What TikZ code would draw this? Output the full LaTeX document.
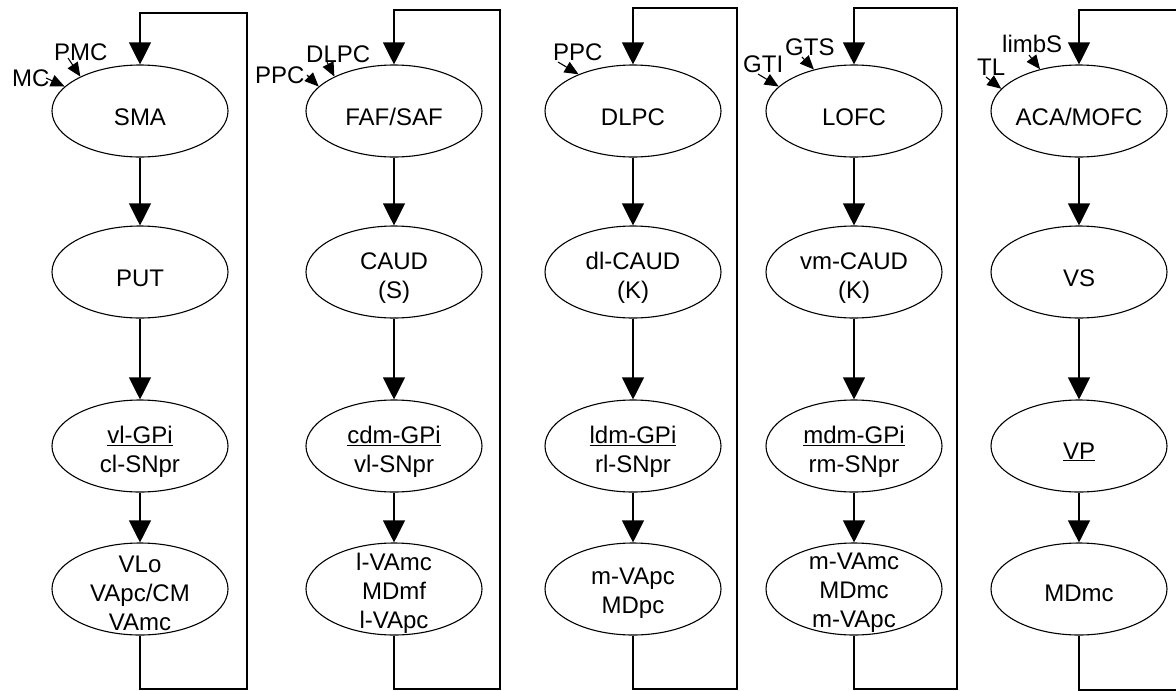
\documentclass[tikz,border=0pt]{standalone}
\usepackage{fontspec}
\setmainfont{Liberation Sans}
\usetikzlibrary{shapes.geometric,arrows.meta}
\begin{document}
\begin{tikzpicture}[x=1pt,y=-1pt,
  every node/.style={font=\fontsize{24}{29}\selectfont},
  region/.style={ellipse,draw,line width=1.1pt,minimum width=176pt,minimum height=92pt,inner sep=0pt},
  inside/.style={align=center,inner sep=0pt,yshift=-6pt},
  insidelow/.style={align=center,inner sep=0pt,yshift=-4pt},
  flow/.style={line width=1.1pt,-{Triangle[length=22pt,width=22pt]}},
  feed/.style={line width=1.1pt,-{Triangle[length=14pt,width=12pt]}},
  src/.style={anchor=base west,inner sep=0pt},
]
\useasboundingbox (0,0) rectangle (1176,691);
\clip (0,0) rectangle (1176,691);

% ---- loop 1: motor ----
\node[region,label={[inside]center:{SMA}}] (c1a) at (140,111) {};
\node[region,label={[inside]center:{PUT}}] (c1b) at (140,272) {};
\node[region,label={[inside]center:{\underline{vl-GPi}\\cl-SNpr}}] (c1c) at (140,446) {};
\node[region,label={[insidelow]center:{VLo\\VApc/CM\\VAmc}}] (c1d) at (140,589) {};

% ---- loop 2: oculomotor ----
\node[region,label={[inside]center:{FAF/SAF}}] (c2a) at (394,111) {};
\node[region,label={[inside]center:{CAUD\\(S)}}] (c2b) at (394,272) {};
\node[region,label={[inside]center:{\underline{cdm-GPi}\\vl-SNpr}}] (c2c) at (394,446) {};
\node[region,label={[insidelow]center:{l-VAmc\\MDmf\\l-VApc}}] (c2d) at (394,589) {};

% ---- loop 3: dorsolateral prefrontal ----
\node[region,label={[inside]center:{DLPC}}] (c3a) at (633,111) {};
\node[region,label={[inside]center:{dl-CAUD\\(K)}}] (c3b) at (633,272) {};
\node[region,label={[inside]center:{\underline{ldm-GPi}\\rl-SNpr}}] (c3c) at (633,446) {};
\node[region,label={[insidelow]center:{m-VApc\\MDpc}}] (c3d) at (633,589) {};

% ---- loop 4: lateral orbitofrontal ----
\node[region,label={[inside]center:{LOFC}}] (c4a) at (854,111) {};
\node[region,label={[inside]center:{vm-CAUD\\(K)}}] (c4b) at (854,272) {};
\node[region,label={[inside]center:{\underline{mdm-GPi}\\rm-SNpr}}] (c4c) at (854,446) {};
\node[region,label={[insidelow]center:{m-VAmc\\MDmc\\m-VApc}}] (c4d) at (854,589) {};

% ---- loop 5: anterior cingulate ----
\node[region,label={[inside]center:{ACA/MOFC}}] (c5a) at (1079,111) {};
\node[region,label={[inside]center:{VS}}] (c5b) at (1079,272) {};
\node[region,label={[inside]center:{\underline{VP}}}] (c5c) at (1079,446) {};
\node[region,label={[insidelow]center:{MDmc}}] (c5d) at (1079,589) {};

% downward chains
\foreach \k in {1,...,5}{
  \draw[flow] (c\k a) -- (c\k b);
  \draw[flow] (c\k b) -- (c\k c);
  \draw[flow] (c\k c) -- (c\k d);
}

% return paths of each loop
\coordinate (r1t) at (247,13);  \coordinate (r1b) at (247,689);
\coordinate (r2t) at (500,10);  \coordinate (r2b) at (500,689);
\coordinate (r3t) at (737,8);   \coordinate (r3b) at (737,689);
\coordinate (r4t) at (957,8);   \coordinate (r4b) at (957,689);
\coordinate (r5t) at (1185,10); \coordinate (r5b) at (1185,690);
\foreach \k in {1,...,5}{
  \draw[flow] (c\k d) |- (r\k b) -- (r\k t) -| (c\k a);
}

% cortical inputs
\node[src] (inMC)   at (12,86)   {MC};
\node[src] (inPMC)  at (54,60)   {PMC};
\node[src] (inPPCa) at (255,83)  {PPC};
\node[src] (inDLPC) at (306,62)  {DLPC};
\node[src] (inPPCb) at (553,60)  {PPC};
\node[src] (inGTI)  at (743,72)  {GTI};
\node[src] (inGTS)  at (785,55)  {GTS};
\node[src] (inTL)   at (977,75)  {TL};
\node[src] (inLimb) at (1002,52) {limbS};

\coordinate (tMC)   at (46,78);
\coordinate (tPMC)  at (68,58);
\coordinate (tPPCa) at (307,75);
\coordinate (tDLPC) at (327,62);
\coordinate (tPPCb) at (558,62);
\coordinate (tGTI)  at (758,74);
\coordinate (tGTS)  at (802,57);
\coordinate (tTL)   at (986,77);
\coordinate (tLimb) at (1029,55);

\draw[feed] (tMC)   -- (c1a.162);
\draw[feed] (tPMC)  -- (c1a.150);
\draw[feed] (tPPCa) -- (c2a.162);
\draw[feed] (tDLPC) -- (c2a.150);
\draw[feed] (tPPCb) -- (c3a.146);
\draw[feed] (tGTI)  -- (c4a.162);
\draw[feed] (tGTS)  -- (c4a.134);
\draw[feed] (tTL)   -- (c5a.164);
\draw[feed] (tLimb) -- (c5a.133);
\end{tikzpicture}
\end{document}
